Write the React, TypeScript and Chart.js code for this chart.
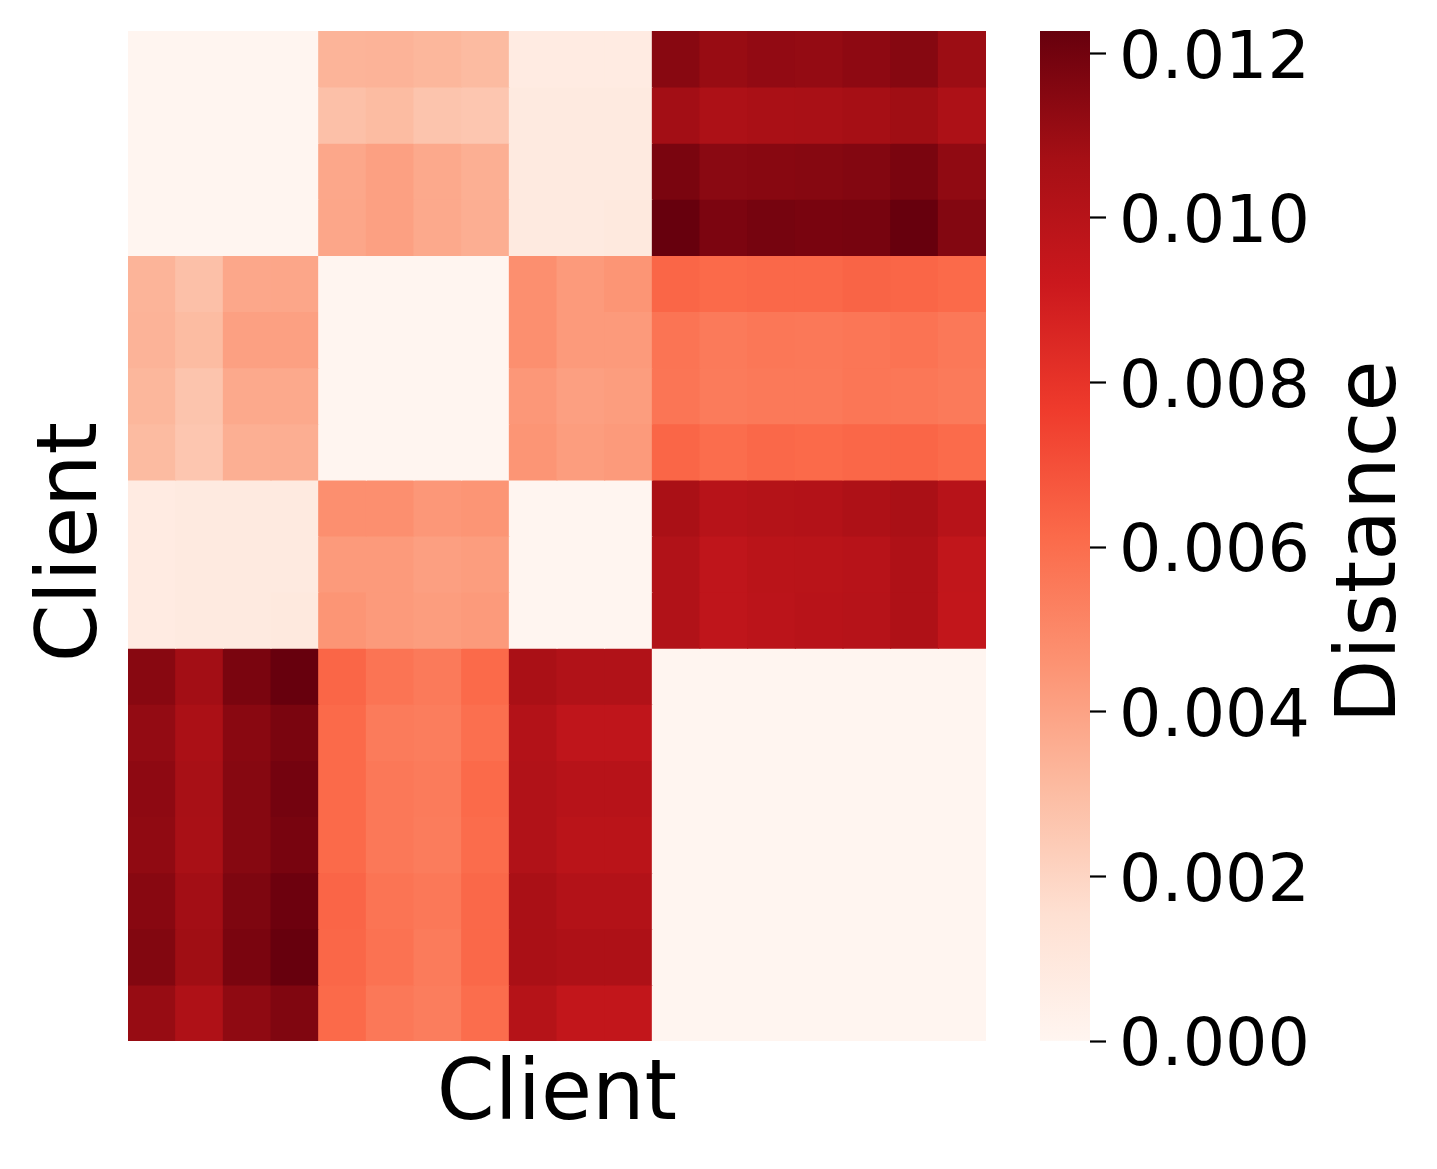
import React, { useEffect, useRef } from 'react';
import { Chart, registerables } from 'chart.js';

Chart.register(...registerables);

// ---- data ----
const clientLabels = ['0', '1', '2', '3', '4', '5', '6', '7', '8', '9', '10', '11', '12', '13', '14', '15', '16', '17'];

const distanceRows: number[][] = [
  [0, 0, 0, 0, 0.00333, 0.00337, 0.00322, 0.00307, 0.0007, 0.0007, 0.0007, 0.01145, 0.01106, 0.0112, 0.01115, 0.0113, 0.0115, 0.01096],
  [0, 0, 0, 0, 0.00286, 0.00303, 0.00269, 0.00261, 0.0008, 0.0008, 0.0008, 0.01079, 0.01042, 0.01054, 0.01058, 0.0107, 0.01086, 0.01042],
  [0, 0, 0, 0, 0.00382, 0.00408, 0.00374, 0.00352, 0.0008, 0.0008, 0.0008, 0.0118, 0.0114, 0.01145, 0.0115, 0.01158, 0.0118, 0.01125],
  [0, 0, 0, 0, 0.00385, 0.00408, 0.00374, 0.00355, 0.0008, 0.0008, 0.0009, 0.01227, 0.01175, 0.0119, 0.01183, 0.01188, 0.01227, 0.01158],
  [0.00333, 0.00286, 0.00382, 0.00385, 0, 0, 0, 0, 0.0047, 0.0043, 0.0045, 0.00627, 0.00614, 0.0062, 0.0062, 0.00633, 0.00627, 0.00614],
  [0.00337, 0.00303, 0.00408, 0.00408, 0, 0, 0, 0, 0.0047, 0.0043, 0.0043, 0.00575, 0.00552, 0.00563, 0.0056, 0.00567, 0.00579, 0.0056],
  [0.00322, 0.00269, 0.00374, 0.00374, 0, 0, 0, 0, 0.0044, 0.0041, 0.0042, 0.00571, 0.00548, 0.00556, 0.00556, 0.00567, 0.00563, 0.00552],
  [0.00307, 0.00261, 0.00352, 0.00355, 0, 0, 0, 0, 0.0045, 0.0042, 0.0043, 0.00627, 0.00602, 0.0062, 0.00614, 0.00624, 0.00627, 0.0061],
  [0.0007, 0.0008, 0.0008, 0.0008, 0.0047, 0.0047, 0.0044, 0.0045, 0, 0, 0, 0.01054, 0.01002, 0.01013, 0.01017, 0.01037, 0.01054, 0.01002],
  [0.0007, 0.0008, 0.0008, 0.0008, 0.0043, 0.0043, 0.0041, 0.0042, 0, 0, 0, 0.01025, 0.00968, 0.00989, 0.00993, 0.01002, 0.01033, 0.0096],
  [0.0007, 0.0008, 0.0008, 0.0009, 0.0045, 0.0043, 0.0042, 0.0043, 0, 0, 0, 0.01025, 0.00968, 0.00985, 0.00997, 0.01005, 0.01033, 0.00955],
  [0.01145, 0.01079, 0.0118, 0.01227, 0.00627, 0.00575, 0.00552, 0.00614, 0.01054, 0.01025, 0.01025, 0, 0, 0, 0, 0, 0, 0],
  [0.01117, 0.0105, 0.01142, 0.0118, 0.00614, 0.00548, 0.0054, 0.00594, 0.01017, 0.00968, 0.00968, 0, 0, 0, 0, 0, 0, 0],
  [0.0113, 0.01062, 0.0115, 0.01195, 0.00614, 0.0056, 0.00548, 0.00614, 0.01025, 0.01002, 0.01002, 0, 0, 0, 0, 0, 0, 0],
  [0.01125, 0.01058, 0.0115, 0.01185, 0.00614, 0.0056, 0.00545, 0.00606, 0.01025, 0.00989, 0.00989, 0, 0, 0, 0, 0, 0, 0],
  [0.01145, 0.01079, 0.0117, 0.01213, 0.0063, 0.00575, 0.0056, 0.0062, 0.01054, 0.01017, 0.01017, 0, 0, 0, 0, 0, 0, 0],
  [0.0116, 0.01086, 0.0118, 0.01227, 0.00624, 0.00583, 0.00548, 0.0062, 0.01054, 0.01037, 0.01037, 0, 0, 0, 0, 0, 0, 0],
  [0.01108, 0.01033, 0.01128, 0.01165, 0.00614, 0.0056, 0.0054, 0.00602, 0.0101, 0.00957, 0.00957, 0, 0, 0, 0, 0, 0, 0],
];

const colorbarTicks = [0, 0.002, 0.004, 0.006, 0.008, 0.01, 0.012];
const vmin = 0;
const vmax = 0.01227;

const axisTitle = 'Client';
const colorbarTitle = 'Distance';

// matplotlib "Reds" colormap anchors
const redsStops = ['#fff5f0', '#fee0d2', '#fcbba1', '#fc9272', '#fb6a4a', '#ef3b2c', '#cb181d', '#a50f15', '#67000d'];

const FONT = "'DejaVu Sans', sans-serif";

function hexToRgb(h: string): number[] {
  return [parseInt(h.slice(1, 3), 16), parseInt(h.slice(3, 5), 16), parseInt(h.slice(5, 7), 16)];
}

function redsColor(v: number): string {
  const t = Math.min(1, Math.max(0, (v - vmin) / (vmax - vmin)));
  const n = redsStops.length;
  const pos = t * (n - 1);
  const i = Math.min(n - 2, Math.floor(pos));
  const f = pos - i;
  const a = hexToRgb(redsStops[i]);
  const b = hexToRgb(redsStops[i + 1]);
  const c = a.map((x, k) => Math.round(x + (b[k] - x) * f));
  return `rgb(${c[0]},${c[1]},${c[2]})`;
}

function makeVerticalTitle(id: string, text: string, x: number, dy: number) {
  return {
    id,
    afterDraw(chart: any) {
      const ctx = chart.ctx;
      const area = chart.chartArea;
      ctx.save();
      ctx.translate(x, (area.top + area.bottom) / 2 + dy);
      ctx.rotate(-Math.PI / 2);
      ctx.font = `83px ${FONT}`;
      ctx.fillStyle = '#000';
      ctx.textAlign = 'center';
      ctx.textBaseline = 'middle';
      ctx.fillText(text, 0, 0);
      ctx.restore();
    },
  };
}

export default function App() {
  const heatRef = useRef<HTMLCanvasElement>(null);
  const barRef = useRef<HTMLCanvasElement>(null);

  useEffect(() => {
    const heat = new Chart(heatRef.current as HTMLCanvasElement, {
      type: 'bar',
      data: {
        labels: clientLabels,
        datasets: distanceRows.map((row, r) => ({
          label: clientLabels[r],
          data: row.map(() => 1),
          backgroundColor: row.map((v) => redsColor(v)),
          borderWidth: 0,
          inflateAmount: 0.5,
          barPercentage: 1,
          categoryPercentage: 1,
        })),
      },
      options: {
        responsive: false,
        animation: false,
        layout: { padding: { left: 128, right: 14, top: 31, bottom: 15 } },
        plugins: { legend: { display: false }, tooltip: { enabled: false } },
        scales: {
          x: {
            type: 'category',
            stacked: true,
            offset: true,
            grid: { display: false, drawTicks: false },
            border: { display: false },
            ticks: { display: false },
            title: {
              display: true,
              text: axisTitle,
              color: '#000',
              font: { family: FONT, size: 83 },
              padding: { top: 6.6, bottom: 6.8 },
            },
          },
          y: {
            type: 'linear',
            stacked: true,
            min: 0,
            max: clientLabels.length,
            reverse: true,
            grid: { display: false, drawTicks: false },
            border: { display: false },
            ticks: { display: false },
          },
        },
      },
      plugins: [makeVerticalTitle('yTitle', axisTitle, 74, 6)],
    } as any);

    const bar = new Chart(barRef.current as HTMLCanvasElement, {
      type: 'bar',
      data: {
        labels: [colorbarTitle],
        datasets: [
          {
            label: colorbarTitle,
            data: [[vmin, vmax]],
            borderWidth: 0,
            barPercentage: 1,
            categoryPercentage: 1,
            backgroundColor: (c: any) => {
              const chart = c.chart;
              const area = chart.chartArea;
              if (!area) return 'transparent';
              const ys = chart.scales.y;
              const g = chart.ctx.createLinearGradient(0, ys.getPixelForValue(vmin), 0, ys.getPixelForValue(vmax));
              redsStops.forEach((s, i) => g.addColorStop(i / (redsStops.length - 1), s));
              return g;
            },
          },
        ],
      },
      options: {
        responsive: false,
        animation: false,
        layout: { padding: { left: 40, right: 127, top: 31, bottom: 128 } },
        plugins: { legend: { display: false }, tooltip: { enabled: false } },
        scales: {
          x: { display: false, offset: true },
          y: {
            type: 'linear',
            position: 'right',
            min: vmin,
            max: vmax,
            afterBuildTicks: (axis: any) => {
              axis.ticks = colorbarTicks.map((v) => ({ value: v }));
            },
            afterFit: (axis: any) => {
              axis.width = 220;
            },
            grid: {
              display: true,
              drawOnChartArea: false,
              drawTicks: true,
              tickLength: 16,
              tickColor: '#000',
              tickWidth: 2.2,
            },
            border: { display: false },
            ticks: {
              color: '#000',
              padding: 13,
              labelOffset: 7,
              font: { family: FONT, size: 66.7, lineHeight: 0.5 },
              callback: (v: any) => Number(v).toFixed(3),
            },
          },
        },
      },
      plugins: [makeVerticalTitle('cbTitle', colorbarTitle, 373, 6)],
    } as any);

    return () => {
      heat.destroy();
      bar.destroy();
    };
  }, []);

  return (
    <div style={{ position: 'absolute', left: 0, top: 0, width: 1437, height: 1169, background: '#fff' }}>
      <canvas ref={heatRef} width={1000} height={1169} style={{ position: 'absolute', left: 0, top: 0, display: 'block' }} />
      <canvas ref={barRef} width={437} height={1169} style={{ position: 'absolute', left: 1000, top: 0, display: 'block' }} />
    </div>
  );
}
